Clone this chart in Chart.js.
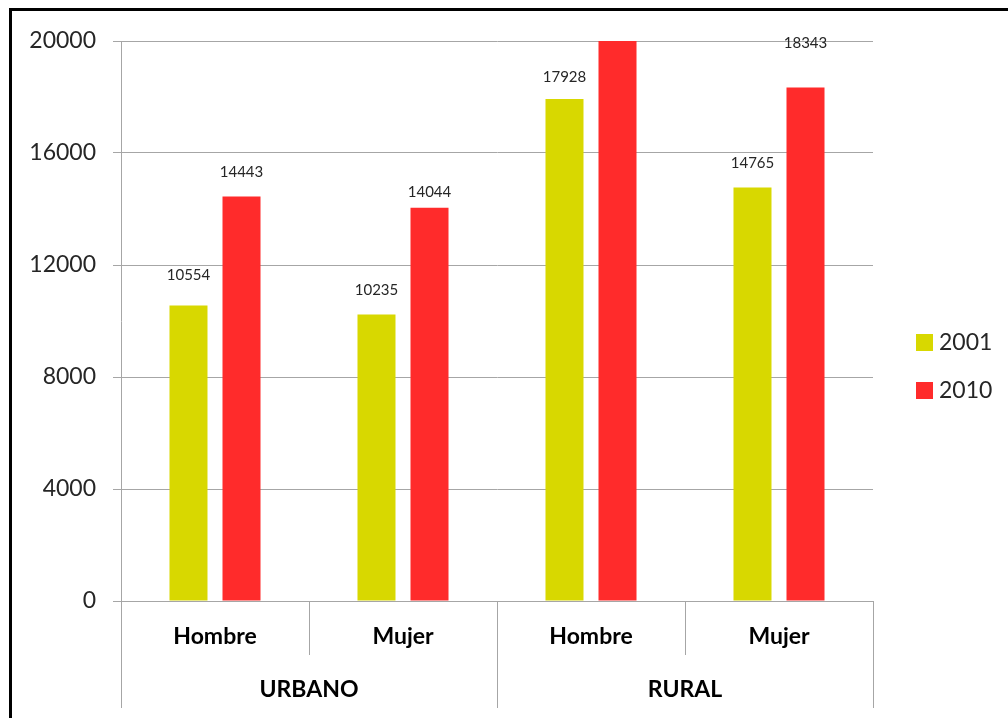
<!DOCTYPE html>
<html lang="es">
<head>
<meta charset="utf-8">
<title>Urbano / Rural 2001 - 2010</title>
<script src="https://cdn.jsdelivr.net/npm/chart.js@4.4.1/dist/chart.umd.min.js"></script>
<style>
  html, body { margin: 0; padding: 0; background: #fff; }
  body { width: 1008px; height: 718px; position: relative; overflow: hidden; }
  /* marco negro (solo arriba e izquierda, como en la imagen recortada) */
  #frame { position: absolute; left: 9px; top: 8px; right: 0; bottom: 0;
           border-top: 3px solid #000; border-left: 3px solid #000; }
  #wrap { position: absolute; left: 0; top: 0; width: 1008px; height: 718px; }
</style>
</head>
<body>
<div id="frame"></div>
<div id="wrap"><canvas id="chart"></canvas></div>
<script>
// --- DATOS --- //
const groups = ['URBANO', 'RURAL'];
const groupSizes = [2, 2];
const categories = ['Hombre', 'Mujer', 'Hombre', 'Mujer'];
const seriesNames = ['2001', '2010'];
const values2001 = [10554, 10235, 17928, 14765];
const values2010 = [14443, 14044, 21500, 18343]; // el valor rural/hombre 2010 sale del gráfico (estimado)
const yTicks = [0, 4000, 8000, 12000, 16000, 20000];

// --- ESTILO --- //
const colors = ['#d8d800', '#ff2b2b'];
const labelOffsets = [[30, 24, 22, 24], [24, 16, 24, 44]]; // distancia etiqueta-barra (px)
const gridColor = '#a6a6a6';
const textColor = '#262626';
const fontFamily = 'Lato, "Open Sans", sans-serif';

document.addEventListener('DOMContentLoaded', () => {
    const ctx = document.getElementById('chart').getContext('2d');
    const yMax = yTicks[yTicks.length - 1];

    // Etiquetas de datos encima de las barras
    const dataLabels = {
        id: 'dataLabels',
        afterDatasetsDraw(chart) {
            const c = chart.ctx;
            c.save();
            c.font = '15px ' + fontFamily;
            c.fillStyle = textColor;
            c.textAlign = 'center';
            c.textBaseline = 'middle';
            chart.data.datasets.forEach((ds, di) => {
                chart.getDatasetMeta(di).data.forEach((bar, i) => {
                    const v = ds.data[i];
                    if (v > yMax) return; // fuera del área, no se ve
                    c.fillText(String(v), bar.x, bar.y - labelOffsets[di][i]);
                });
            });
            c.restore();
        }
    };

    // Eje X de dos niveles (categoría + grupo)
    const twoLevelAxis = {
        id: 'twoLevelAxis',
        afterDraw(chart) {
            const c = chart.ctx;
            const x = chart.scales.x;
            const area = chart.chartArea;
            const half = (x.getPixelForValue(1) - x.getPixelForValue(0)) / 2;
            const subY = area.bottom + 36;
            const groupY = area.bottom + 89;
            const innerBottom = area.bottom + 54;
            const outerBottom = area.bottom + 107;

            c.save();
            c.strokeStyle = gridColor;
            c.lineWidth = 1;
            // líneas separadoras
            const outer = new Set([0]);
            let acc = 0;
            groupSizes.forEach(n => { acc += n; outer.add(acc); });
            for (let i = 0; i <= categories.length; i++) {
                const px = Math.round(x.getPixelForValue(i) - half) + 0.5;
                const bottom = outer.has(i) ? outerBottom : innerBottom;
                c.beginPath();
                c.moveTo(px, area.bottom);
                c.lineTo(px, bottom);
                c.stroke();
            }

            c.fillStyle = '#000';
            c.textAlign = 'center';
            c.textBaseline = 'middle';
            c.font = 'bold 23px ' + fontFamily;
            categories.forEach((lab, i) => {
                c.fillText(lab, x.getPixelForValue(i), subY);
            });
            let start = 0;
            groups.forEach((g, gi) => {
                const end = start + groupSizes[gi] - 1;
                const cx = (x.getPixelForValue(start) + x.getPixelForValue(end)) / 2;
                c.fillText(g, cx, groupY);
                start = end + 1;
            });
            c.restore();
        }
    };

    // Leyenda a la derecha
    const sideLegend = {
        id: 'sideLegend',
        afterDraw(chart) {
            const c = chart.ctx;
            c.save();
            c.font = '23px ' + fontFamily;
            c.textBaseline = 'middle';
            c.textAlign = 'left';
            chart.data.datasets.forEach((ds, i) => {
                const y = 342 + i * 48;
                c.fillStyle = ds.backgroundColor;
                c.fillRect(916, y - 8, 17, 17);
                c.fillStyle = textColor;
                c.fillText(ds.label, 939, y + 1);
            });
            c.restore();
        }
    };

    new Chart(ctx, {
        type: 'bar',
        data: {
            labels: categories,
            datasets: [
                { label: seriesNames[0], data: values2001, backgroundColor: colors[0] },
                { label: seriesNames[1], data: values2010, backgroundColor: colors[1] }
            ]
        },
        options: {
            responsive: true,
            maintainAspectRatio: false,
            animation: false,
            layout: { padding: { left: 0, top: 41, right: 135, bottom: 117 } },
            datasets: { bar: { categoryPercentage: 0.564, barPercentage: 0.717, borderWidth: 0 } },
            plugins: { legend: { display: false }, tooltip: { enabled: false } },
            scales: {
                x: { display: false },
                y: {
                    min: 0,
                    max: yMax,
                    afterFit: s => { s.width = 121; },
                    afterBuildTicks: s => { s.ticks = yTicks.map(v => ({ value: v })); },
                    grid: { color: gridColor, tickLength: 8, lineWidth: 1 },
                    border: { display: true, color: gridColor },
                    ticks: {
                        padding: 17,
                        color: textColor,
                        font: { family: fontFamily, size: 23 },
                        callback: v => String(v)
                    }
                }
            }
        },
        plugins: [dataLabels, twoLevelAxis, sideLegend]
    });
});
</script>
</body>
</html>
